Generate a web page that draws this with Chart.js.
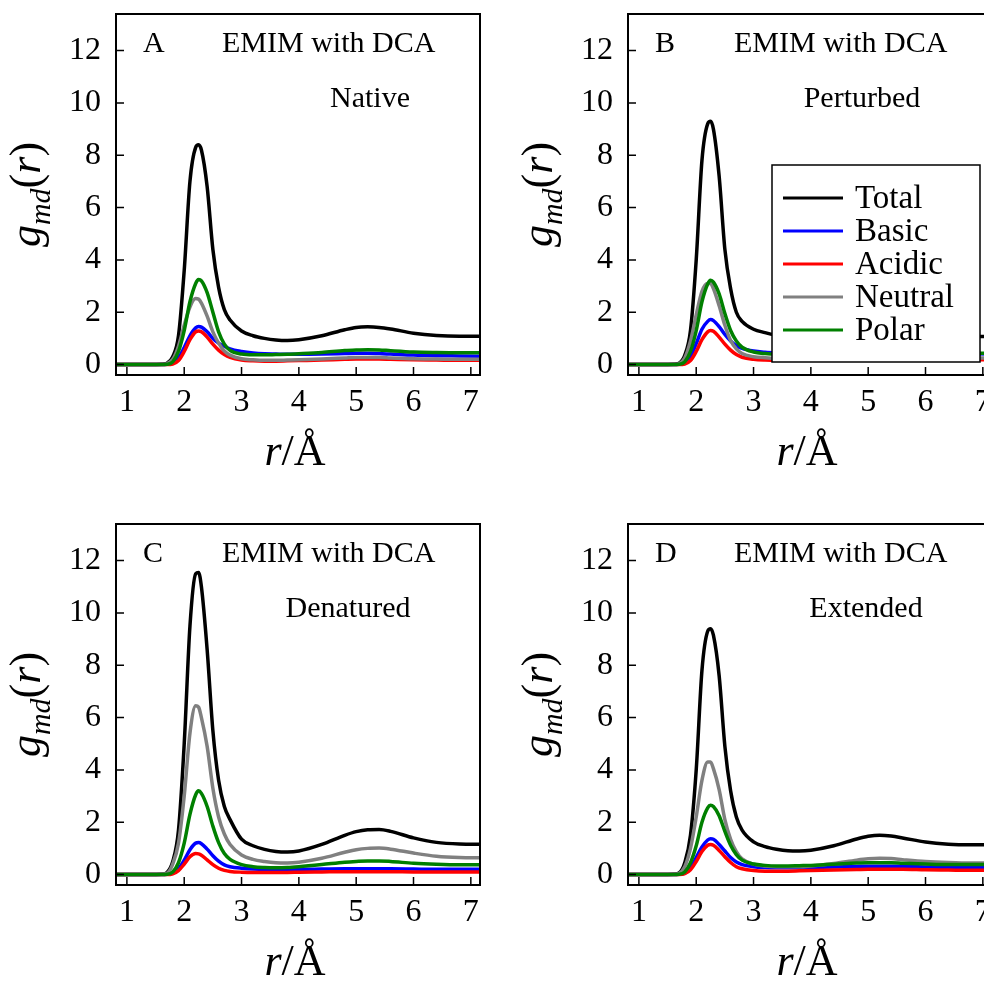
<!DOCTYPE html>
<html>
<head>
<meta charset="utf-8">
<title>gmd(r) - EMIM with DCA</title>
<script src="https://cdn.jsdelivr.net/npm/chart.js@4.4.1/dist/chart.umd.min.js"></script>
<style>
    html, body {
        margin: 0;
        padding: 0;
        background: #fff;
        width: 984px;
        height: 982px;
        overflow: hidden;
        position: relative;
    }
    .panel {
        position: absolute;
    }
</style>
</head>
<body>
<canvas id="panelA" class="panel" width="500" height="500" style="left:0px;top:0px"></canvas>
<canvas id="panelB" class="panel" width="500" height="500" style="left:512px;top:0px"></canvas>
<canvas id="panelC" class="panel" width="500" height="500" style="left:0px;top:510px"></canvas>
<canvas id="panelD" class="panel" width="500" height="500" style="left:512px;top:510px"></canvas>
<script>
// r grid (Å) shared by every curve
const rValues = [0.8, 1.0, 1.2, 1.4, 1.6, 1.7, 1.8, 1.9, 2.0, 2.1, 2.2, 2.25, 2.3, 2.4, 2.5, 2.6, 2.7, 2.8,
                 3.0, 3.2, 3.4, 3.6, 3.8, 4.0, 4.4, 4.8, 5.0, 5.2, 5.4, 5.6, 6.0, 6.4, 6.8, 7.2];

// Native
const totalNative   = [0, 0, 0, 0, 0.01, 0.05, 0.3, 1.1, 3.6, 7.0, 8.3, 8.4, 8.2, 6.8, 4.4, 2.95, 2.1, 1.7,
                       1.28, 1.1, 1.0, 0.94, 0.92, 0.95, 1.1, 1.33, 1.42, 1.44, 1.42, 1.36, 1.2, 1.11, 1.08, 1.08];
const basicNative   = [0, 0, 0, 0, 0, 0.01, 0.05, 0.25, 0.65, 1.1, 1.4, 1.45, 1.43, 1.25, 1.0, 0.82, 0.7, 0.6,
                       0.5, 0.44, 0.41, 0.4, 0.39, 0.39, 0.4, 0.42, 0.43, 0.43, 0.42, 0.4, 0.36, 0.34, 0.33, 0.32];
const acidicNative  = [0, 0, 0, 0, 0, 0, 0.02, 0.15, 0.5, 0.95, 1.25, 1.28, 1.25, 1.05, 0.78, 0.55, 0.38, 0.27,
                       0.17, 0.14, 0.13, 0.13, 0.14, 0.15, 0.17, 0.2, 0.21, 0.21, 0.21, 0.2, 0.18, 0.17, 0.16, 0.16];
const neutralNative = [0, 0, 0, 0, 0, 0.03, 0.2, 0.7, 1.5, 2.2, 2.52, 2.5, 2.35, 1.85, 1.25, 0.82, 0.52, 0.36,
                       0.22, 0.18, 0.16, 0.16, 0.17, 0.18, 0.21, 0.25, 0.27, 0.27, 0.27, 0.25, 0.22, 0.21, 0.2, 0.2];
const polarNative   = [0, 0, 0, 0, 0, 0.01, 0.1, 0.5, 1.3, 2.4, 3.1, 3.25, 3.2, 2.75, 2.0, 1.25, 0.78, 0.54,
                       0.4, 0.37, 0.37, 0.38, 0.39, 0.41, 0.46, 0.54, 0.56, 0.57, 0.56, 0.53, 0.48, 0.46, 0.45, 0.45];

// Perturbed
const totalPerturbed   = [0, 0, 0, 0, 0.01, 0.05, 0.35, 1.3, 4.0, 7.8, 9.2, 9.3, 9.0, 7.2, 4.4, 2.9, 2.0, 1.65,
                          1.35, 1.22, 1.12, 1.05, 1.0, 1.0, 1.08, 1.22, 1.28, 1.3, 1.28, 1.24, 1.14, 1.09, 1.07, 1.07];
const basicPerturbed   = [0, 0, 0, 0, 0, 0.01, 0.06, 0.3, 0.8, 1.35, 1.65, 1.72, 1.68, 1.45, 1.15, 0.9, 0.72, 0.62,
                          0.52, 0.47, 0.44, 0.42, 0.42, 0.43, 0.45, 0.48, 0.5, 0.5, 0.5, 0.48, 0.44, 0.42, 0.41, 0.4];
const acidicPerturbed  = [0, 0, 0, 0, 0, 0, 0.02, 0.15, 0.5, 0.95, 1.25, 1.3, 1.27, 1.05, 0.78, 0.55, 0.38, 0.28,
                          0.2, 0.17, 0.16, 0.16, 0.17, 0.18, 0.2, 0.22, 0.23, 0.23, 0.23, 0.22, 0.2, 0.19, 0.18, 0.18];
const neutralPerturbed = [0, 0, 0, 0, 0, 0.03, 0.25, 0.9, 1.9, 2.8, 3.1, 3.1, 2.9, 2.25, 1.5, 0.92, 0.6, 0.42,
                          0.3, 0.26, 0.24, 0.24, 0.25, 0.26, 0.28, 0.31, 0.32, 0.32, 0.32, 0.3, 0.28, 0.26, 0.25, 0.25];
const polarPerturbed   = [0, 0, 0, 0, 0, 0.01, 0.1, 0.5, 1.3, 2.4, 3.08, 3.22, 3.15, 2.7, 1.95, 1.3, 0.9, 0.66,
                          0.48, 0.42, 0.4, 0.4, 0.41, 0.42, 0.46, 0.5, 0.52, 0.52, 0.52, 0.5, 0.46, 0.44, 0.43, 0.43];

// Denatured
const totalDenatured   = [0, 0, 0, 0, 0.01, 0.08, 0.5, 1.7, 5.0, 9.5, 11.5, 11.55, 11.0, 8.6, 5.5, 3.6, 2.6, 2.1,
                          1.35, 1.1, 0.96, 0.88, 0.86, 0.9, 1.15, 1.5, 1.64, 1.71, 1.72, 1.65, 1.4, 1.23, 1.17, 1.16];
const basicDenatured   = [0, 0, 0, 0, 0, 0.01, 0.05, 0.22, 0.55, 0.95, 1.2, 1.22, 1.18, 0.97, 0.72, 0.51, 0.37, 0.3,
                          0.24, 0.21, 0.2, 0.2, 0.2, 0.2, 0.21, 0.22, 0.22, 0.22, 0.22, 0.22, 0.21, 0.2, 0.2, 0.2];
const acidicDenatured  = [0, 0, 0, 0, 0, 0, 0.03, 0.15, 0.4, 0.68, 0.8, 0.79, 0.74, 0.56, 0.38, 0.24, 0.16, 0.12,
                          0.09, 0.08, 0.08, 0.08, 0.08, 0.09, 0.1, 0.11, 0.11, 0.11, 0.11, 0.11, 0.1, 0.1, 0.1, 0.1];
const neutralDenatured = [0, 0, 0, 0, 0.01, 0.05, 0.4, 1.2, 3.0, 5.4, 6.45, 6.4, 6.0, 4.9, 3.3, 2.2, 1.55, 1.15,
                          0.75, 0.58, 0.5, 0.45, 0.44, 0.47, 0.62, 0.85, 0.95, 1.0, 1.01, 0.97, 0.82, 0.7, 0.65, 0.64];
const polarDenatured   = [0, 0, 0, 0, 0, 0.01, 0.1, 0.45, 1.2, 2.3, 3.05, 3.2, 3.1, 2.6, 1.85, 1.22, 0.8, 0.58,
                          0.38, 0.3, 0.27, 0.26, 0.27, 0.3, 0.38, 0.47, 0.5, 0.52, 0.52, 0.5, 0.43, 0.39, 0.37, 0.37];

// Extended
const totalExtended   = [0, 0, 0, 0, 0.01, 0.06, 0.45, 1.5, 4.0, 7.8, 9.3, 9.4, 9.15, 7.6, 4.9, 3.2, 2.2, 1.7,
                         1.25, 1.07, 0.97, 0.91, 0.9, 0.93, 1.1, 1.36, 1.46, 1.5, 1.47, 1.4, 1.24, 1.16, 1.14, 1.14];
const basicExtended   = [0, 0, 0, 0, 0, 0.01, 0.05, 0.25, 0.65, 1.05, 1.32, 1.37, 1.35, 1.15, 0.9, 0.65, 0.48, 0.38,
                         0.3, 0.27, 0.26, 0.26, 0.26, 0.27, 0.29, 0.31, 0.32, 0.32, 0.32, 0.31, 0.29, 0.28, 0.28, 0.28];
const acidicExtended  = [0, 0, 0, 0, 0, 0, 0.03, 0.18, 0.5, 0.88, 1.12, 1.15, 1.12, 0.92, 0.68, 0.46, 0.3, 0.22,
                         0.15, 0.13, 0.13, 0.13, 0.14, 0.15, 0.17, 0.19, 0.2, 0.2, 0.2, 0.2, 0.18, 0.17, 0.16, 0.16];
const neutralExtended = [0, 0, 0, 0, 0, 0.04, 0.3, 1.0, 2.2, 3.6, 4.3, 4.3, 4.05, 3.25, 2.1, 1.35, 0.88, 0.6,
                         0.4, 0.33, 0.3, 0.3, 0.3, 0.33, 0.42, 0.55, 0.6, 0.62, 0.61, 0.57, 0.5, 0.46, 0.44, 0.44];
const polarExtended   = [0, 0, 0, 0, 0, 0.01, 0.1, 0.45, 1.1, 2.0, 2.55, 2.65, 2.6, 2.25, 1.65, 1.12, 0.76, 0.55,
                         0.4, 0.35, 0.33, 0.33, 0.34, 0.35, 0.39, 0.44, 0.45, 0.45, 0.45, 0.43, 0.4, 0.38, 0.38, 0.38];

const seriesLabels = ['Total', 'Basic', 'Acidic', 'Neutral', 'Polar'];
const xTicks = [1, 2, 3, 4, 5, 6, 7];
const yTicks = [0, 2, 4, 6, 8, 10, 12];

const seriesColors = ['#000000', '#0000ff', '#ff0000', '#808080', '#008000'];
const SERIF = '"Liberation Serif", "Times New Roman", serif';

/**
 * Frame, inward ticks, panel captions, axis titles and (optionally) legend
 */
const panelDecor = {
    id: 'panelDecor',
    afterDraw(chart, args, opts) {
        const ctx = chart.ctx;
        const area = chart.chartArea;
        const xs = chart.scales.x;
        const ys = chart.scales.y;
        const cx = (area.left + area.right) / 2;
        const cy = (area.top + area.bottom) / 2;

        ctx.save();
        ctx.strokeStyle = '#000';
        ctx.fillStyle = '#000';

        // tick marks pointing into the plot
        ctx.lineWidth = 1.5;
        ctx.beginPath();
        xTicks.forEach(v => {
            const px = xs.getPixelForValue(v);
            ctx.moveTo(px, area.bottom);
            ctx.lineTo(px, area.bottom - 8);
        });
        yTicks.forEach(v => {
            const py = ys.getPixelForValue(v);
            ctx.moveTo(area.left, py);
            ctx.lineTo(area.left + 8, py);
        });
        ctx.stroke();

        // box around the plot area
        ctx.lineWidth = 2;
        ctx.strokeRect(area.left, area.top, area.right - area.left, area.bottom - area.top);

        // captions inside the plot
        ctx.textBaseline = 'alphabetic';
        ctx.textAlign = 'left';
        ctx.font = '30px ' + SERIF;
        ctx.fillText(opts.letter, area.left + 27, area.top + 38);
        ctx.fillText('EMIM with DCA', area.left + 106, area.top + 38);
        ctx.textAlign = 'center';
        ctx.fillText(opts.state, area.left + opts.stateX, area.top + 93);

        // x axis title: r/Å
        const big = 44;
        const xParts = [
            { t: 'r', f: 'italic ' + big + 'px ' + SERIF },
            { t: '/', f: big + 'px ' + SERIF },
            { t: 'Å', f: big + 'px ' + SERIF }
        ];
        drawParts(ctx, xParts, cx - 3, area.bottom + 90);

        // y axis title: g_md(r), rotated
        ctx.save();
        ctx.translate(area.left - 76, cy);
        ctx.rotate(-Math.PI / 2);
        const yParts = [
            { t: 'g', f: 'italic ' + big + 'px ' + SERIF },
            { t: 'md', f: 'italic 30px ' + SERIF, dy: 10 },
            { t: '(', f: big + 'px ' + SERIF },
            { t: 'r', f: 'italic ' + big + 'px ' + SERIF },
            { t: ')', f: big + 'px ' + SERIF }
        ];
        drawParts(ctx, yParts, 0, 0);
        ctx.restore();

        if (opts.legend) {
            drawLegend(ctx, chart, area);
        }
        ctx.restore();
    }
};

/**
 * Draw a run of differently styled text pieces centered on x
 */
function drawParts(ctx, parts, x, baseline) {
    ctx.textAlign = 'left';
    let total = 0;
    parts.forEach(p => {
        ctx.font = p.f;
        p.w = ctx.measureText(p.t).width;
        total += p.w;
    });
    let px = x - total / 2;
    parts.forEach(p => {
        ctx.font = p.f;
        ctx.fillText(p.t, px, baseline + (p.dy || 0));
        px += p.w;
    });
}

/**
 * Boxed legend in the lower right of the plot
 */
function drawLegend(ctx, chart, area) {
    const left = area.left + 144;
    const top = area.top + 151;
    ctx.fillStyle = '#fff';
    ctx.fillRect(left, top, 208, 197);
    ctx.strokeStyle = '#000';
    ctx.lineWidth = 1.5;
    ctx.strokeRect(left, top, 208, 197);

    ctx.font = '33px ' + SERIF;
    ctx.textAlign = 'left';
    ctx.textBaseline = 'middle';
    chart.data.datasets.forEach((ds, i) => {
        const y = top + 33 + i * 33;
        ctx.strokeStyle = ds.borderColor;
        ctx.lineWidth = 3;
        ctx.beginPath();
        ctx.moveTo(left + 11, y);
        ctx.lineTo(left + 71, y);
        ctx.stroke();
        ctx.fillStyle = '#000';
        ctx.fillText(ds.label, left + 83, y + 1);
    });
}

/**
 * Build one g_md(r) panel
 */
function createPanel(canvasId, panel) {
    const canvas = document.getElementById(canvasId);
    if (!canvas) {
        console.warn('Canvas not found:', canvasId);
        return null;
    }

    const datasets = panel.series.map((values, i) => ({
        label: seriesLabels[i],
        data: rValues.map((r, k) => ({ x: r, y: values[k] })),
        borderColor: seriesColors[i],
        backgroundColor: seriesColors[i],
        borderWidth: 3.5,
        pointRadius: 0,
        fill: false,
        cubicInterpolationMode: 'monotone',
        // Polar drawn last, Total first
        order: seriesLabels.length - i
    }));

    return new Chart(canvas.getContext('2d'), {
        type: 'line',
        data: { datasets: datasets },
        options: {
            responsive: false,
            animation: false,
            layout: { padding: { top: 14, right: 20, left: 0, bottom: 0 } },
            scales: {
                x: {
                    type: 'linear',
                    min: 0.81,
                    max: 7.16,
                    grid: { display: false, drawTicks: false },
                    border: { display: false },
                    ticks: {
                        color: '#000',
                        font: { family: SERIF, size: 32 },
                        padding: 8,
                        maxRotation: 0
                    },
                    afterBuildTicks: scale => {
                        scale.ticks = xTicks.map(v => ({ value: v }));
                    },
                    afterFit: scale => {
                        scale.height = 125;
                        scale.paddingLeft = 0;
                        scale.paddingRight = 0;
                    }
                },
                y: {
                    type: 'linear',
                    min: -0.4,
                    max: 13.4,
                    grid: { display: false, drawTicks: false },
                    border: { display: false },
                    ticks: {
                        color: '#000',
                        font: { family: SERIF, size: 32 },
                        padding: 15
                    },
                    afterBuildTicks: scale => {
                        scale.ticks = yTicks.map(v => ({ value: v }));
                    },
                    afterFit: scale => {
                        scale.width = 116;
                        scale.paddingTop = 0;
                        scale.paddingBottom = 0;
                    }
                }
            },
            plugins: {
                legend: { display: false },
                tooltip: { enabled: false },
                panelDecor: {
                    letter: panel.letter,
                    state: panel.state,
                    stateX: panel.stateX,
                    legend: panel.legend
                }
            }
        },
        plugins: [panelDecor]
    });
}

createPanel('panelA', {
    letter: 'A', state: 'Native', stateX: 254, legend: false,
    series: [totalNative, basicNative, acidicNative, neutralNative, polarNative]
});
createPanel('panelB', {
    letter: 'B', state: 'Perturbed', stateX: 234, legend: true,
    series: [totalPerturbed, basicPerturbed, acidicPerturbed, neutralPerturbed, polarPerturbed]
});
createPanel('panelC', {
    letter: 'C', state: 'Denatured', stateX: 232, legend: false,
    series: [totalDenatured, basicDenatured, acidicDenatured, neutralDenatured, polarDenatured]
});
createPanel('panelD', {
    letter: 'D', state: 'Extended', stateX: 238, legend: false,
    series: [totalExtended, basicExtended, acidicExtended, neutralExtended, polarExtended]
});
</script>
</body>
</html>
